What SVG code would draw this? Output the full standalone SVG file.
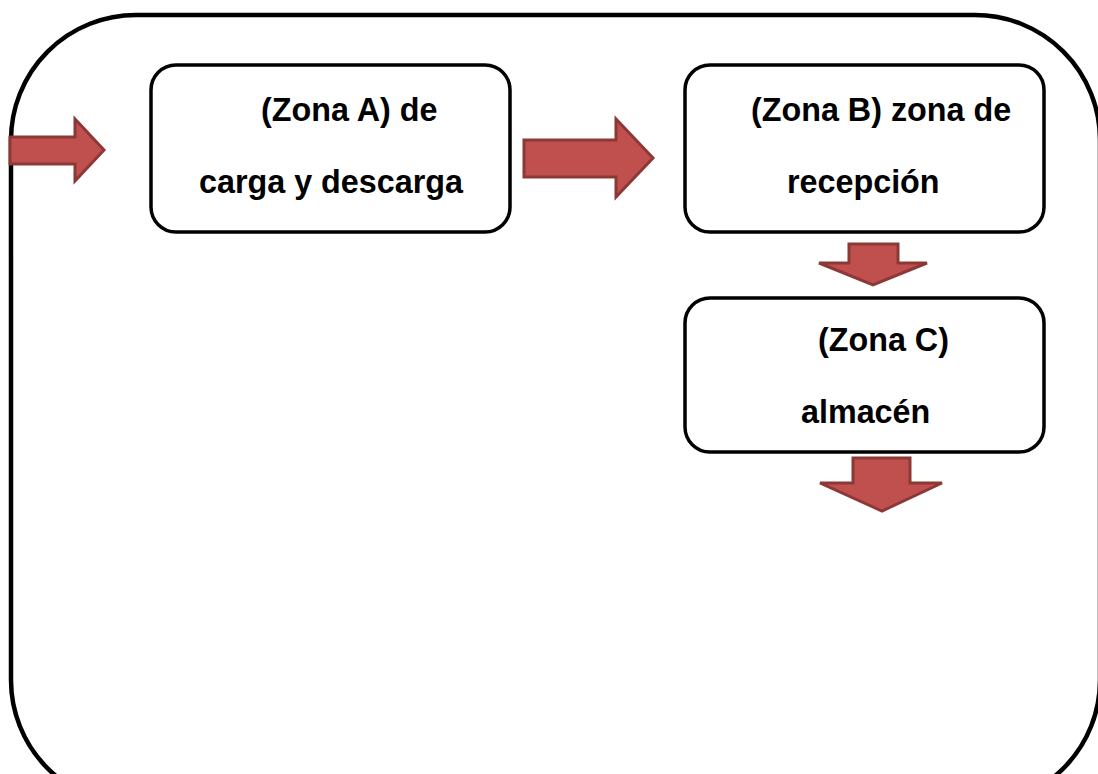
<svg xmlns="http://www.w3.org/2000/svg" width="1098" height="774" viewBox="0 0 1098 774">
<style>
.frame{fill:none;stroke:#000;stroke-width:4.5}
.box{fill:#fff;stroke:#000;stroke-width:3.5}
.arr{fill:#C0504D;stroke:#8C3836;stroke-width:3;stroke-linejoin:miter}
.t{font-family:"Liberation Sans",Arial,sans-serif;font-weight:bold;font-size:32.3px;fill:#000}
</style>
<rect width="1098" height="774" fill="#fff"/>
<rect id="frame" class="frame" x="11" y="15" width="1089" height="790" rx="125" ry="125"/>
<g id="nodeA">
<rect class="box" x="151" y="65" width="359" height="167" rx="25" ry="25"/>
<text class="t" x="261" y="121">(Zona A) de</text>
<text class="t" x="199" y="193">carga y descarga</text>
</g>
<g id="nodeB">
<rect class="box" x="685" y="65" width="359" height="167" rx="25" ry="25"/>
<text class="t" x="751" y="121">(Zona B) zona de</text>
<text class="t" x="787" y="193">recepción</text>
</g>
<g id="nodeC">
<rect class="box" x="685" y="298" width="359" height="154" rx="25" ry="25"/>
<text class="t" x="818" y="351">(Zona C)</text>
<text class="t" x="801" y="423">almacén</text>
</g>
<g id="connectors">
<polygon class="arr" points="10,137 75,137 75,119 104,150 75,181 75,164 10,164"/>
<polygon class="arr" points="524,140 616,140 616,119 653,158 616,197 616,177 524,177"/>
<polygon class="arr" points="849,244 898,244 898,263 927,263 873,285 819,263 849,263"/>
<polygon class="arr" points="853,458 910,458 910,483 942,483 882,511 820,483 853,483"/>
</g>
</svg>
